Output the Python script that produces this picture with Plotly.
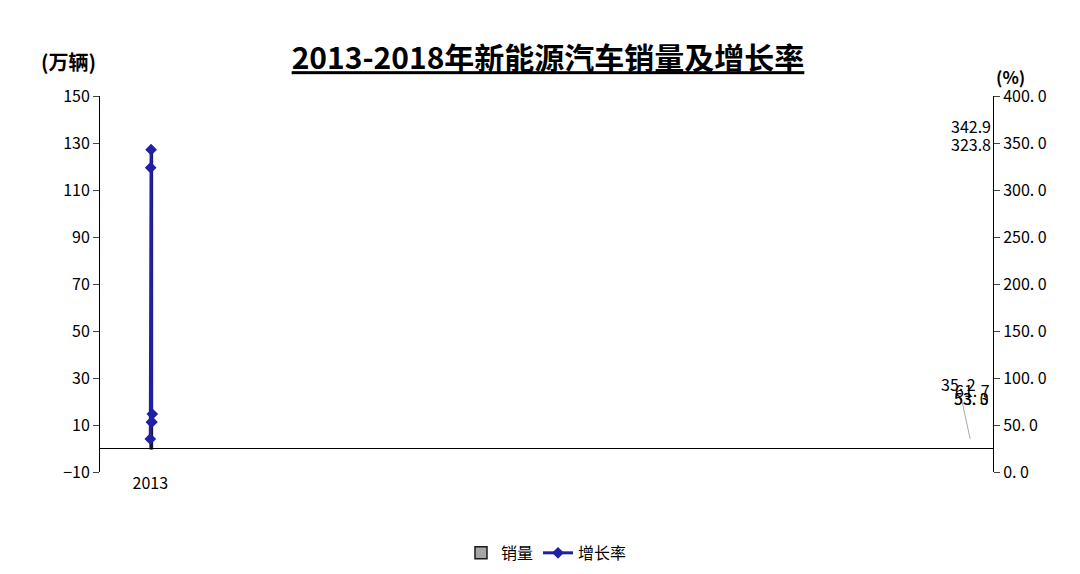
import plotly.graph_objects as go

years = ["2013", "2014", "2015", "2016", "2017", "2018"]
sales = [1.8, 7.5, 33.1, 50.7, 77.7, 125.6]
growth = [35.2, 323.8, 342.9, 53.0, 53.3, 61.7]
left_ticks = [-10, 10, 30, 50, 70, 90, 110, 130, 150]
right_ticks = [0, 50, 100, 150, 200, 250, 300, 350, 400]
right_labels = ["0. 0", "50. 0", "100. 0", "150. 0", "200. 0", "250. 0", "300. 0", "350. 0", "400. 0"]

F = "Noto Sans CJK SC"
fig = go.Figure()
fig.add_trace(go.Bar(x=years, y=sales, name="销量", width=0.47,
                     marker=dict(color="#a6a6a6", line=dict(color="#1a1a1a", width=1.5)),
                     text=[f"{v:.1f}".replace(".", ". ") for v in sales], textposition="outside",
                     textfont=dict(size=16, color="black", family=F), cliponaxis=False))
fig.add_trace(go.Scatter(x=years, y=growth, name="增长率", yaxis="y2", mode="lines+markers",
                         line=dict(color="#1f1fa8", width=3),
                         marker=dict(symbol="diamond", size=9, color="#1f1fa8")))
for i, (yr, g) in enumerate(zip(years, growth)):
    if i == 0:
        fig.add_annotation(x=yr, y=g, xref="x", yref="y2", text="35. 2", ax=-12, ay=-55, showarrow=True,
                           arrowhead=0, arrowcolor="#aaaaaa", arrowwidth=1,
                           font=dict(size=16, family=F, color="black"))
    else:
        fig.add_annotation(x=yr, y=g, xref="x", yref="y2",
                           text=f"{g:.1f}".replace(".", ". ") if i > 2 else f"{g:.1f}",
                           yshift=24, showarrow=False, font=dict(size=16, family=F, color="black"))
fig.add_shape(type="line", xref="paper", yref="y", x0=0, x1=1, y0=0, y1=0,
              line=dict(color="black", width=1.2))
fig.update_layout(
    width=1080, height=574, plot_bgcolor="white", paper_bgcolor="white",
    margin=dict(l=92, r=95, t=88, b=63),
    font=dict(family=F, size=16, color="black"),
    title=dict(text="<b><u>2013-2018年新能源汽车销量及增长率</u></b>", x=0.5, y=0.93,
               xanchor="center", font=dict(size=30, family=F)),
    xaxis=dict(type="category", showline=False, ticks="", tickfont=dict(size=16, family=F),
               showgrid=False),
    yaxis=dict(range=[-10, 150], tickvals=left_ticks, showline=True, linecolor="black",
               ticks="outside", ticklen=6, showgrid=False, zeroline=False,
               tickfont=dict(size=16, family=F)),
    yaxis2=dict(range=[0, 400], tickvals=right_ticks, ticktext=right_labels, overlaying="y",
                side="right", showline=True, linecolor="black", ticks="outside", ticklen=6,
                showgrid=False, zeroline=False, tickfont=dict(size=16, family=F)),
    legend=dict(orientation="h", x=0.5, xanchor="center", y=-0.17, yanchor="top",
                font=dict(size=16, family=F)),
)
fig.add_annotation(xref="paper", yref="paper", x=-0.035, y=1.135, text="<b>(万辆)</b>",
                   showarrow=False, font=dict(size=20, family=F), xanchor="center")
fig.add_annotation(xref="paper", yref="paper", x=1.02, y=1.09, text="<b>(%)</b>",
                   showarrow=False, font=dict(size=17, family=F), xanchor="center")
fig.write_html("out.html")
